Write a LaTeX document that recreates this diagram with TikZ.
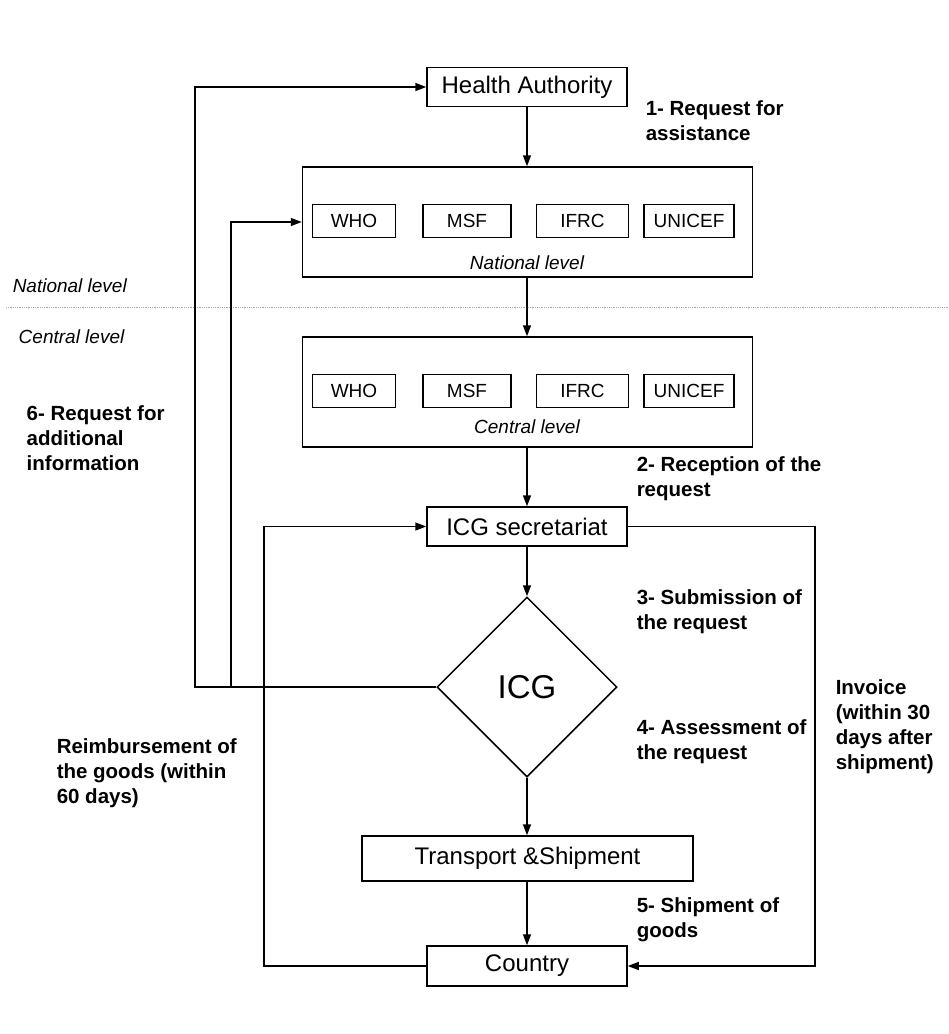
\documentclass[tikz,border=0pt]{standalone}
\usepackage{fontspec}
\setmainfont{Liberation Sans}
\usetikzlibrary{arrows.meta,shapes.geometric}
\begin{document}
\begin{tikzpicture}[x=1pt,y=-1pt,
  line width=1.5pt,
  arr/.style={-{Triangle[length=11pt,width=8pt]}},
  mainbox/.style={draw,minimum height=39pt,minimum width=200pt,inner sep=0pt,font=\fontsize{24}{28}\selectfont},
  levelbox/.style={draw,minimum width=450pt,minimum height=110pt,inner sep=0pt},
  orgbox/.style={draw,minimum height=33pt,inner sep=0pt,font=\fontsize{19}{22}\selectfont},
  levellabel/.style={inner sep=0pt,font=\fontsize{19}{22}\selectfont\itshape},
  steplabel/.style={inner sep=0pt,anchor=base west,align=left,font=\fontsize{20.5}{25.3}\selectfont\bfseries}]
\path[use as bounding box,fill=white] (0,0) rectangle (949,1034);

% main nodes
\node[mainbox] (ha) at (527,87) {Health Authority};
\node[levelbox] (nat) at (527.5,222) {};
\node[orgbox,minimum width=83pt] (who1) at (354,221) {WHO};
\node[orgbox,minimum width=88pt] (msf1) at (467,221) {MSF};
\node[orgbox,minimum width=92pt] (ifrc1) at (582.5,221) {IFRC};
\node[orgbox,minimum width=90pt] (uni1) at (689,221) {UNICEF};
\node[levellabel] (natl) at (527,263) {National level};

\node[levelbox] (cen) at (527.5,392) {};
\node[orgbox,minimum width=83pt] (who2) at (354,391) {WHO};
\node[orgbox,minimum width=88pt] (msf2) at (467,391) {MSF};
\node[orgbox,minimum width=92pt] (ifrc2) at (582.5,391) {IFRC};
\node[orgbox,minimum width=90pt] (uni2) at (689,391) {UNICEF};
\node[levellabel] (cenl) at (527,427) {Central level};

\node[mainbox] (sec) at (527,526.5) {ICG secretariat};
\node[draw,diamond,shape aspect=1,minimum width=180pt,minimum height=180pt,inner sep=0pt,font=\fontsize{33}{38}\selectfont] (icg) at (527,687) {ICG};
\node[mainbox,minimum width=331pt,minimum height=45pt] (tr) at (527.5,858.5) {Transport \&Shipment};
\node[mainbox,minimum height=40pt] (cty) at (527,966) {Country};

% level separator
\draw[line width=0.8pt,gray!70,densely dotted] (6,307) -- (949,307);
\node[levellabel,anchor=west] (nl) at (12,286) {National level};
\node[levellabel,anchor=west] (cl) at (18,337) {Central level};

% helper x positions
\coordinate (xa) at (195,0);
\coordinate (xb) at (231,0);
\coordinate (xc) at (264,0);
\coordinate (xd) at (815,0);

% main flow
\draw[arr] (ha.south -| 527,0) -- (nat.north -| 527,0);
\draw[arr] (nat.south -| 527,0) -- (cen.north -| 527,0);
\draw[arr] (cen.south -| 527,0) -- (sec.north);
\draw[arr] (sec) -- (icg);
\draw[arr] (icg) -- (tr.north -| icg);
\draw[arr] (tr.south -| cty) -- (cty);

% feedback lines
\draw[arr] (icg.west) -- (icg.west -| xa) |- (ha.west);
\draw[arr] (icg.west -| xb) |- (nat.west);
\draw[arr] (cty.west) -- (cty.west -| xc) |- (sec.west);
\draw[arr] (sec.east) -- (sec.east -| xd) |- (cty.east);

% step labels (anchor = baseline of last line)
\node[steplabel] (s1) at (645,140.3) {1- Request for\\assistance};
\node[steplabel] (s2) at (636,496.3) {2- Reception of the\\request};
\node[steplabel] (s3) at (636,629.3) {3- Submission of\\the request};
\node[steplabel] (s4) at (636,759.3) {4- Assessment of\\the request};
\node[steplabel] (s5) at (636,937.3) {5- Shipment of\\goods};
\node[steplabel] (s6) at (26,470.6) {6- Request for\\additional\\information};
\node[steplabel] (re) at (56,803.6) {Reimbursement of\\the goods (within\\60 days)};
\node[steplabel] (in) at (835,769.9) {Invoice\\(within 30\\days after\\shipment)};
\end{tikzpicture}
\end{document}
